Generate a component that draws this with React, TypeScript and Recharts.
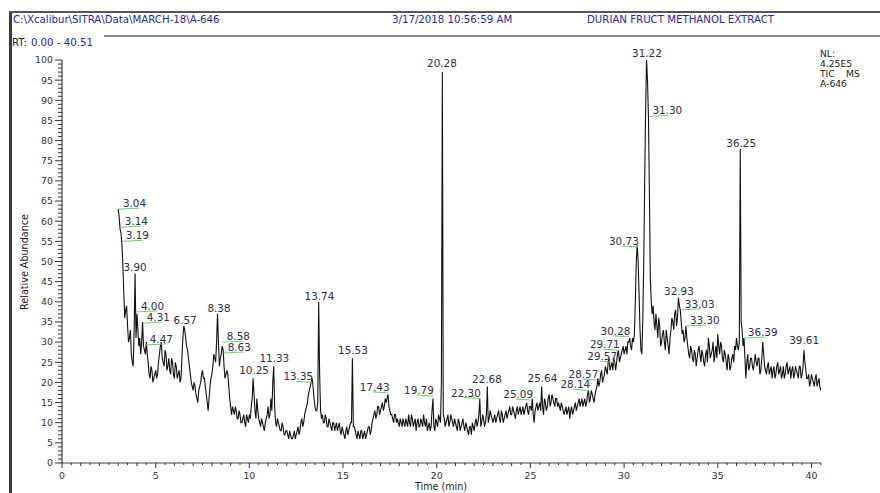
import React from 'react';
import { LineChart, Line, XAxis, YAxis, ReferenceDot } from 'recharts';

// TIC trace, read on a regular scan grid: each segment lists scans at start + k*0.1 min
// and the in-between scans at start + k*0.1 + 0.05 min.
const SCAN_STEP = 0.1;
const segmentStarts = [3, 5, 8, 10, 13, 15, 18, 21, 25, 28, 31, 34, 37];

const tic03to05 = [63, 58, 54, 42, 38, 34, 31, 27, 24, 47, 37, 29, 27, 35, 28, 30, 25, 21, 23, 21];
const tic03to05Mid = [61, 57, 49, 36, 39, 30, 33, 25, 33, 31, 33, 31, 30, 29, 27, 27, 22, 24, 20, 22];
const tic05to08 = [23, 22, 27, 30, 25, 28, 23, 26, 22, 25, 21, 24, 22, 20, 26, 34, 31, 28, 24, 20, 18, 19, 16, 18, 20, 23, 21, 17, 13, 19];
const tic05to08Mid = [21, 25, 29, 26, 24, 27, 24, 23, 26, 22, 25, 21, 23, 21, 31, 33, 29, 26, 22, 19, 20, 17, 15, 19, 22, 21, 19, 15, 16, 21];
const tic08to10 = [22, 27, 25, 37, 24, 27, 28, 21, 23, 19, 14, 14, 12, 13, 11, 12, 10, 12, 9, 11];
const tic08to10Mid = [24, 26, 30, 30, 26, 29, 24, 22, 22, 16, 12, 13, 14, 11, 13, 10, 11, 10, 12, 10];
const tic10to13 = [12, 14, 21, 13, 16, 11, 9, 10, 8, 11, 14, 12, 13, 24, 10, 11, 9, 8, 9, 7, 8, 6, 7, 6, 8, 7, 9, 8, 11, 10];
const tic10to13Mid = [11, 16, 17, 11, 13, 10, 11, 9, 10, 12, 11, 16, 20, 14, 9, 10, 8, 10, 7, 8, 7, 8, 6, 7, 6, 8, 7, 10, 9, 12];
const tic13to15 = [13, 15, 18, 20, 19, 14, 13, 40, 13, 12, 10, 11, 9, 10, 8, 10, 9, 8, 10, 7];
const tic13to15Mid = [14, 17, 19, 21, 16, 13, 15, 22, 11, 10, 12, 9, 11, 9, 10, 8, 10, 9, 8, 9];
const tic15to18 = [8, 6, 9, 8, 10, 26, 9, 7, 8, 6, 8, 7, 6, 8, 9, 8, 11, 13, 12, 14, 13, 15, 14, 15, 17, 13, 12, 10, 12, 11];
const tic15to18Mid = [7, 8, 7, 9, 10, 9, 8, 6, 7, 8, 6, 8, 7, 9, 7, 10, 12, 11, 14, 12, 14, 13, 16, 16, 14, 12, 11, 12, 10, 10];
const tic18to21 = [9, 10, 11, 9, 10, 12, 9, 11, 10, 8, 11, 9, 10, 12, 9, 8, 10, 9, 16, 8, 10, 12, 10, 97, 11, 10, 12, 10, 11, 9];
const tic18to21Mid = [11, 9, 10, 11, 9, 10, 12, 9, 11, 10, 9, 11, 9, 10, 11, 9, 8, 13, 9, 11, 9, 11, 20, 12, 9, 11, 9, 12, 10, 11];
const tic21to25 = [10, 8, 10, 9, 11, 8, 9, 7, 9, 10, 8, 11, 10, 16, 10, 11, 10, 19, 11, 12, 10, 12, 11, 13, 10, 12, 11, 13, 12, 14, 12, 13, 11, 14, 13, 12, 14, 13, 15, 12];
const tic21to25Mid = [9, 11, 8, 10, 9, 10, 8, 9, 7, 9, 10, 9, 12, 9, 12, 9, 12, 10, 13, 11, 11, 10, 12, 11, 13, 10, 12, 11, 13, 12, 14, 12, 13, 12, 14, 13, 12, 14, 13, 14];
const tic25to28 = [14, 16, 10, 14, 13, 15, 19, 12, 15, 14, 17, 15, 16, 14, 16, 15, 13, 14, 12, 14, 13, 11, 14, 13, 15, 14, 16, 15, 14, 16];
const tic25to28Mid = [13, 12, 13, 15, 14, 13, 14, 16, 13, 16, 14, 17, 15, 16, 14, 14, 15, 13, 13, 12, 14, 13, 12, 14, 13, 15, 14, 16, 15, 14];
const tic28to31 = [15, 18, 16, 17, 15, 18, 21, 20, 23, 21, 24, 22, 26, 24, 23, 25, 25, 28, 26, 28, 27, 29, 30, 31, 28, 30, 40, 54, 42, 28];
const tic28to31Mid = [17, 15, 18, 16, 17, 19, 19, 22, 20, 22, 23, 25, 23, 25, 26, 23, 27, 25, 27, 29, 28, 27, 30, 29, 31, 32, 50, 50, 33, 27];
const tic31to34 = [36, 70, 100, 86, 46, 37, 35, 37, 31, 34, 30, 33, 28, 31, 27, 33, 35, 37, 34, 41, 38, 32, 30, 34, 29, 26, 28, 25, 27, 26];
const tic31to34Mid = [50, 88, 95, 68, 40, 39, 33, 34, 36, 29, 32, 30, 33, 29, 31, 36, 33, 38, 36, 39, 35, 33, 31, 31, 27, 29, 26, 28, 24, 28];
const tic34to37 = [29, 25, 27, 24, 28, 31, 26, 28, 25, 29, 32, 27, 29, 25, 27, 23, 26, 24, 27, 29, 31, 28, 78, 33, 31, 21, 27, 24, 26, 23];
const tic34to37Mid = [27, 28, 25, 27, 25, 29, 27, 30, 27, 26, 29, 30, 26, 28, 25, 27, 23, 26, 25, 28, 29, 30, 35, 29, 26, 25, 23, 26, 24, 25];
const tic37to40 = [27, 24, 26, 23, 30, 24, 22, 25, 23, 21, 24, 22, 25, 23, 21, 24, 22, 25, 23, 21, 24, 22, 23, 21, 24, 22, 28, 23, 21, 19, 22, 20, 21, 19, 21, 18];
const tic37to40Mid = [25, 26, 22, 26, 27, 23, 24, 22, 24, 23, 21, 24, 22, 24, 22, 21, 24, 22, 24, 23, 21, 24, 22, 24, 21, 24, 25, 21, 22, 20, 21, 19, 22, 20, 19];

// Labelled peaks
const peakRT = [3.04, 3.14, 3.19, 3.9, 4.0, 4.31, 4.47, 6.57, 8.38, 8.58, 8.63, 10.25, 11.33, 13.35, 13.74, 15.53, 17.43, 19.79, 20.28, 22.3, 22.68, 25.09, 25.64, 28.14, 28.57, 29.57, 29.71, 30.28, 30.73, 31.22, 31.3, 32.93, 33.03, 33.3, 36.25, 36.39, 39.61];
const peakAbundance = [63, 58.5, 55, 47, 37.5, 34.7, 29.3, 33.8, 36.7, 30, 27.3, 21.3, 24.3, 20, 39.7, 26.3, 17.4, 16.6, 97.5, 16, 19, 15.6, 19.4, 18, 20.6, 25, 28, 31.3, 53.6, 100, 86, 41, 38, 34, 77.7, 31, 28.8];

// Axis ticks
const yTicks = Array.from({ length: 101 }, (_, i) => i);
const xTicks = Array.from({ length: 82 }, (_, i) => i * 0.5);

type Side = 'l' | 'r' | 'c';
const labelSide: Record<string, Side> = {
  '3.04': 'r', '3.14': 'r', '3.19': 'r', '3.90': 'c', '4.00': 'r', '4.31': 'r', '4.47': 'r',
  '6.57': 'c', '8.38': 'c', '8.58': 'r', '8.63': 'r', '10.25': 'c', '11.33': 'c', '13.35': 'l',
  '13.74': 'c', '15.53': 'c', '17.43': 'l', '19.79': 'l', '20.28': 'c', '22.30': 'l', '22.68': 'c',
  '25.09': 'l', '25.64': 'c', '28.14': 'l', '28.57': 'l', '29.57': 'l', '29.71': 'l', '30.28': 'l',
  '30.73': 'l', '31.22': 'c', '31.30': 'r', '32.93': 'c', '33.03': 'r', '33.30': 'r', '36.25': 'c',
  '36.39': 'r', '39.61': 'c',
};

const segments: [number[], number[]][] = [
  [tic03to05, tic03to05Mid], [tic05to08, tic05to08Mid], [tic08to10, tic08to10Mid],
  [tic10to13, tic10to13Mid], [tic13to15, tic13to15Mid], [tic15to18, tic15to18Mid],
  [tic18to21, tic18to21Mid], [tic21to25, tic21to25Mid], [tic25to28, tic25to28Mid],
  [tic28to31, tic28to31Mid], [tic31to34, tic31to34Mid], [tic34to37, tic34to37Mid],
  [tic37to40, tic37to40Mid],
];

const traceData: { rt: number; abundance: number }[] = [];
segments.forEach(([base, mid], s) => {
  base.forEach((v, k) => {
    const t = segmentStarts[s] + k * SCAN_STEP;
    traceData.push({ rt: Math.round(t * 100) / 100, abundance: v });
    if (k < mid.length) traceData.push({ rt: Math.round((t + SCAN_STEP / 2) * 100) / 100, abundance: mid[k] });
  });
});

const FONT = '"DejaVu Sans", "Liberation Sans", Arial, sans-serif';
const LABEL_COLOR = '#2d2d4d';
const GREEN = '#6ccf6c';
const BLUE = '#2727a8';

const renderYTick = (props: any) => {
  const { x, y, payload } = props;
  const v = payload.value as number;
  const major = v % 5 === 0;
  const len = major ? 7 : 4;
  return (
    <g>
      <line x1={x - len} x2={x} y1={y} y2={y} stroke="#333" strokeWidth={1} />
      {major && (
        <text x={x - 9} y={y} dy="0.36em" textAnchor="end" fontFamily={FONT} fontSize={9.4} fill="#333">
          {v}
        </text>
      )}
    </g>
  );
};

const renderXTick = (props: any) => {
  const { x, y, payload } = props;
  const v = payload.value as number;
  const major = Math.abs(v % 5) < 1e-6;
  const len = major ? 5 : Number.isInteger(v) ? 3 : 2;
  return (
    <g>
      <line x1={x} x2={x} y1={y} y2={y + len} stroke="#333" strokeWidth={1} />
      {major && (
        <text x={x} y={y + 16} textAnchor="middle" fontFamily={FONT} fontSize={9.4} fill="#333">
          {v}
        </text>
      )}
    </g>
  );
};

const makePeakShape = (text: string, side: Side) => (props: any) => {
  const { cx, cy } = props;
  if (cx == null || cy == null) return <g />;
  const common = { fontFamily: FONT, fontSize: 10.4, fill: LABEL_COLOR };
  if (side === 'c') {
    return (
      <text x={cx} y={cy - 3} textAnchor="middle" {...common}>
        {text}
      </text>
    );
  }
  if (side === 'r') {
    return (
      <g>
        <line x1={cx} y1={cy} x2={cx + 20} y2={cy - 1} stroke={GREEN} strokeWidth={1} />
        <text x={cx + 4} y={cy - 2} textAnchor="start" {...common}>
          {text}
        </text>
      </g>
    );
  }
  return (
    <g>
      <line x1={cx - 16} y1={cy - 1} x2={cx} y2={cy} stroke={GREEN} strokeWidth={1} />
      <text x={cx + 1} y={cy - 2} textAnchor="end" {...common}>
        {text}
      </text>
    </g>
  );
};

export default function App() {
  return (
    <div style={{ position: 'absolute', left: 0, top: 0, width: 880, height: 493, background: '#fff', overflow: 'hidden' }}>
      <div style={{ position: 'absolute', left: 0, top: 0 }}>
        <LineChart width={880} height={493} data={traceData} margin={{ top: 60, right: 59, bottom: 0, left: 2 }}>
          <XAxis
            dataKey="rt"
            type="number"
            domain={[0, 40.51]}
            allowDataOverflow
            ticks={xTicks}
            interval={0}
            tickLine={false}
            tickSize={0}
            tickMargin={0}
            tick={renderXTick}
            axisLine={{ stroke: '#444', strokeWidth: 1.2 }}
            height={30}
          />
          <YAxis
            type="number"
            domain={[0, 100]}
            allowDataOverflow
            ticks={yTicks}
            interval={0}
            tickLine={false}
            tickSize={0}
            tickMargin={0}
            tick={renderYTick}
            axisLine={{ stroke: '#444', strokeWidth: 1.2 }}
            width={60}
          />
          <Line
            type="linear"
            dataKey="abundance"
            stroke="#111"
            strokeWidth={1.1}
            dot={false}
            activeDot={false}
            isAnimationActive={false}
          />
          {peakRT.map((t, i) => {
            const text = t.toFixed(2);
            return (
              <ReferenceDot
                key={text}
                x={t}
                y={peakAbundance[i]}
                r={0}
                shape={makePeakShape(text, labelSide[text] || 'c')}
              />
            );
          })}
        </LineChart>
      </div>
      <svg width={880} height={493} style={{ position: 'absolute', left: 0, top: 0, pointerEvents: 'none' }}>
        <rect x={9} y={11} width={3} height={482} fill="#3c3c3c" />
        <rect x={9} y={11} width={871} height={2} fill="#555" />
        <rect x={104} y={35} width={776} height={2} fill="#8a8a8a" />
        <g fontFamily={FONT} fontSize={10.2} fill={BLUE}>
          <text x={13} y={23}>C:\Xcalibur\SITRA\Data\MARCH-18\A-646</text>
          <text x={392} y={23}>3/17/2018 10:56:59 AM</text>
          <text x={587} y={23}>DURIAN FRUCT METHANOL EXTRACT</text>
        </g>
        <text x={12} y={46} fontFamily={FONT} fontSize={10.2} fill="#222">
          RT:
          <tspan dx={4} fill={BLUE}>0.00 - 40.51</tspan>
        </text>
        <g fontFamily={FONT} fontSize={9.2} fill="#222">
          <text x={820} y={57}>NL:</text>
          <text x={820} y={67}>4.25E5</text>
          <text x={820} y={77}>TIC</text>
          <text x={846} y={77}>MS</text>
          <text x={820} y={87}>A-646</text>
        </g>
        <text x={441} y={490} textAnchor="middle" fontFamily={FONT} fontSize={9.6} fill="#222">
          Time (min)
        </text>
        <text
          x={24}
          y={262}
          textAnchor="middle"
          dominantBaseline="central"
          transform="rotate(-90 24 262)"
          fontFamily={FONT}
          fontSize={9.6}
          fill="#222"
        >
          Relative Abundance
        </text>
      </svg>
    </div>
  );
}
